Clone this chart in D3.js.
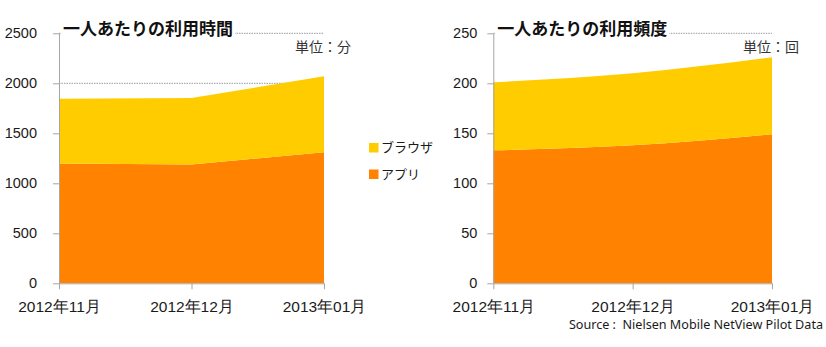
<!DOCTYPE html>
<html>
<head>
<meta charset="utf-8">
<script src="https://cdn.jsdelivr.net/npm/d3@7"></script>
<style>
  body { margin: 0; background: #fff; }
  svg { display: block; font-family: "Noto Sans", "Noto Sans CJK JP", sans-serif; }
</style>
</head>
<body>
<svg id="chart"></svg>
<script>
// data
const months = ["2012年11月", "2012年12月", "2013年01月"];
const seriesNames = ["アプリ", "ブラウザ"];
const timeApp = [1197, 1187, 1310];
const timeBrowser = [649, 666, 760];
const freqApp = [133, 138, 149];
const freqBrowser = [68, 72, 77];
const timeTicks = [0, 500, 1000, 1500, 2000, 2500];
const freqTicks = [0, 50, 100, 150, 200, 250];

const COLORS = { "アプリ": "#ff8200", "ブラウザ": "#ffcc00" };
const AXIS = "#a6a6a6";
const W = 826, H = 347;
const TOP = 33.3, BOTTOM = 283.3;

const svg = d3.select('#chart').attr('width', W).attr('height', H);
svg.append('rect').attr('width', W).attr('height', H).attr('fill', '#fff');

function drawChart(o) {
  const rows = months.map((m, i) => ({ month: m, "アプリ": o.app[i], "ブラウザ": o.browser[i] }));
  const stacked = d3.stack().keys(seriesNames)(rows);

  const x = d3.scalePoint().domain(months).range([o.left, o.right]);
  const y = d3.scaleLinear().domain([0, o.max]).range([BOTTOM, TOP]);

  const g = svg.append('g');

  // gridlines
  g.append('g').selectAll('line')
    .data(o.ticks.slice(1))
    .enter().append('line')
    .attr('x1', o.left).attr('x2', o.right)
    .attr('y1', d => y(d)).attr('y2', d => y(d))
    .attr('stroke', '#9a9a9a')
    .attr('stroke-dasharray', '1.5,1');

  // areas
  const area = d3.area()
    .x(d => x(d.data.month))
    .y0(d => y(d[0]))
    .y1(d => y(d[1]))
    .curve(o.curve);

  g.append('g').selectAll('path')
    .data(stacked)
    .enter().append('path')
    .attr('d', area)
    .attr('fill', d => COLORS[d.key]);

  // y axis
  const yAxis = g.append('g')
    .attr('transform', `translate(${o.left},0)`)
    .call(d3.axisLeft(y).tickValues(o.ticks).tickFormat(d3.format('d'))
      .tickSize(6).tickPadding(o.pad).tickSizeOuter(0));
  yAxis.select('.domain').attr('stroke', AXIS);
  yAxis.selectAll('.tick line').attr('stroke', AXIS);
  yAxis.selectAll('text').attr('font-size', 14.5).attr('fill', '#1a1a1a');

  // x axis
  const xAxis = g.append('g')
    .attr('transform', `translate(0,${BOTTOM})`)
    .call(d3.axisBottom(x).tickSize(6).tickPadding(12).tickSizeOuter(0));
  xAxis.select('.domain').attr('stroke', AXIS);
  xAxis.selectAll('.tick line').attr('stroke', AXIS);
  xAxis.selectAll('text').attr('font-size', 15.5).attr('fill', '#1a1a1a');

  // title over the top gridline, on a white box
  const titleBox = g.append('rect').attr('fill', '#fff');
  const title = g.append('text')
    .attr('x', o.left + 4).attr('y', 35)
    .attr('font-size', 17).attr('font-weight', 'bold')
    .attr('font-family', '"Noto Sans CJK JP", sans-serif')
    .attr('fill', '#111')
    .text(o.title);
  const bb = title.node().getBBox();
  titleBox
    .attr('x', o.left + 2).attr('y', bb.y)
    .attr('width', bb.width + 4).attr('height', bb.height);

  g.append('text')
    .attr('x', o.unitX).attr('y', 52)
    .attr('text-anchor', 'end')
    .attr('font-size', 14)
    .attr('font-family', '"Noto Sans CJK JP", sans-serif')
    .attr('fill', '#333')
    .text(o.unit);
}

drawChart({
  left: 59, right: 324, max: 2500, ticks: timeTicks, pad: 16,
  app: timeApp, browser: timeBrowser, curve: d3.curveLinear,
  title: "一人あたりの利用時間", unit: "単位：分", unitX: 351
});

drawChart({
  left: 493.3, right: 772, max: 250, ticks: freqTicks, pad: 10,
  app: freqApp, browser: freqBrowser, curve: d3.curveMonotoneX,
  title: "一人あたりの利用頻度", unit: "単位：回", unitX: 799
});

// legend
const legend = svg.append('g')
  .selectAll('g')
  .data(["ブラウザ", "アプリ"])
  .enter().append('g')
  .attr('transform', (d, i) => `translate(369,${143 + i * 26.5})`);
legend.append('rect')
  .attr('width', 9.5).attr('height', 9.5)
  .attr('fill', d => COLORS[d]);
legend.append('text')
  .attr('x', 12).attr('y', 9)
  .attr('font-size', 13)
  .attr('font-family', '"Noto Sans CJK JP", sans-serif')
  .attr('fill', '#1a1a1a')
  .text(d => d);

// source note
svg.append('text')
  .attr('x', 823).attr('y', 329)
  .attr('text-anchor', 'end')
  .attr('font-size', 12.6)
  .attr('fill', '#1a1a1a')
  .attr('xml:space', 'preserve')
  .text("Source :  Nielsen Mobile NetView Pilot Data");
</script>
</body>
</html>
